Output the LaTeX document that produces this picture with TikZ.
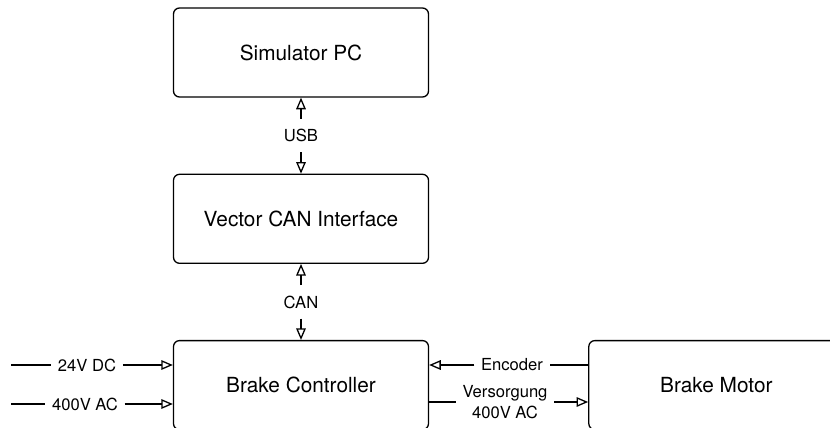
\documentclass[tikz,border=0pt]{standalone}
\usepackage{fontspec}
\setmainfont{TeX Gyre Heros}
\usetikzlibrary{arrows.meta,positioning,calc}

\begin{document}
\begin{tikzpicture}[
  x=0.5pt,y=-0.5pt,
  node distance=38pt and 79.5pt,
  block/.style={draw,rounded corners=3pt,line width=0.65pt,minimum width=127.5pt,minimum height=44.5pt,font=\fontsize{10.4}{12}\selectfont},
  lbl/.style={inner xsep=3.2pt,inner ysep=5pt,align=center,font=\fontsize{8.3}{10.4}\selectfont},
  arrow/.style={-{Triangle[open,length=5.8pt,width=4.8pt]},line width=0.65pt},
  link/.style={line width=0.65pt}
]
\useasboundingbox (0,0) rectangle (830,428);
\clip (0,0) rectangle (830,428);
\node[block] (simpc) at (301,52.5) {Simulator PC};
\node[block,below=of simpc] (canif) {Vector CAN Interface};
\node[block,below=of canif] (brakectl) {Brake Controller};
\node[block,right=of brakectl] (brakemot) {Brake Motor};
% bus labels between the boxes
\node[lbl] (usb) at ($(simpc.south)!0.5!(canif.north)$) {USB};
\node[lbl] (can) at ($(canif.south)!0.5!(brakectl.north)$) {CAN};
\draw[arrow] (usb)--(simpc);
\draw[arrow] (usb)--(canif);
\draw[arrow] (can)--(canif);
\draw[arrow] (can)--(brakectl);
% supply inputs
\coordinate (dcin) at (11,365);
\coordinate (acin) at (11,404);
\node[lbl] (dc) at (87,365) {24V DC};
\node[lbl] (ac) at (85,404) {400V AC};
\draw[link] (dcin)--(dc);
\draw[arrow] (dc)--(dc -| brakectl.west);
\draw[link] (acin)--(ac);
\draw[arrow] (ac)--(ac -| brakectl.west);
% motor side
\node[lbl] (enc) at (512,365) {Encoder};
\node[lbl] (supply) at (505,402) {Versorgung\\400V AC};
\draw[link] (enc -| brakemot.west)--(enc);
\draw[arrow] (enc)--(enc -| brakectl.east);
\draw[link] (supply -| brakectl.east)--(supply);
\draw[arrow] (supply)--(supply -| brakemot.west);
\end{tikzpicture}
\end{document}
